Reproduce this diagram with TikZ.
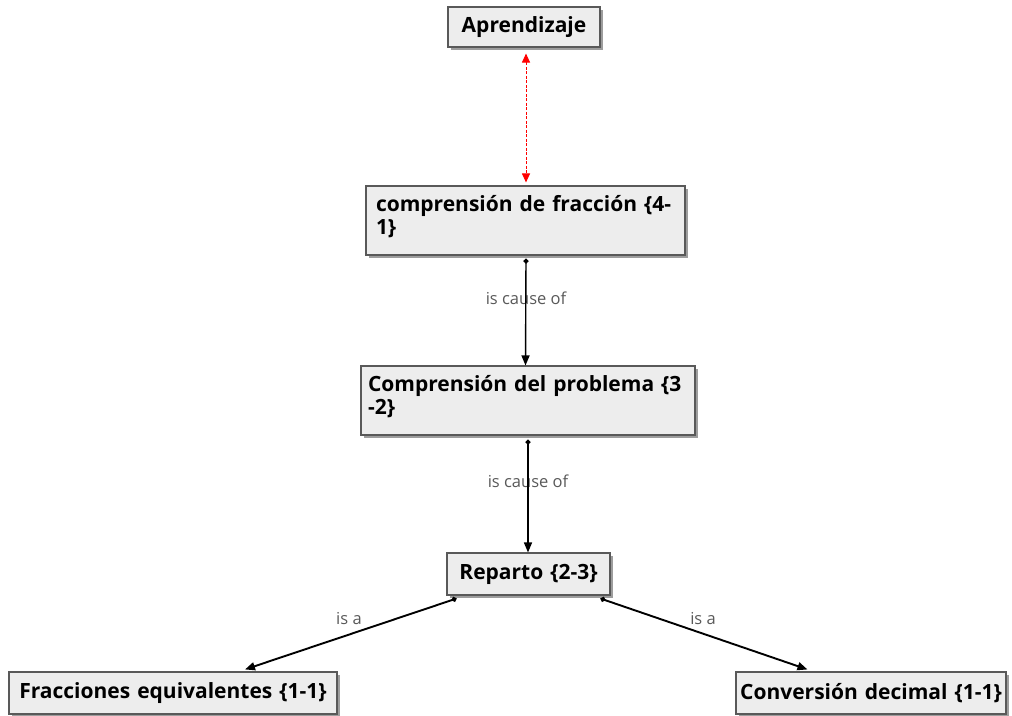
\documentclass[tikz,border=0pt]{standalone}
\usepackage{fontspec}
\setmainfont{Open Sans}
\usetikzlibrary{arrows.meta,shadows,calc}
\begin{document}
\begin{tikzpicture}[x=1pt,y=-1pt,
  concept/.style={draw=black!65, line width=1.1pt, fill=black!7,
    drop shadow={shadow xshift=3pt, shadow yshift=-3pt, opacity=0.55, fill=black!70},
    font=\bfseries\fontsize{21}{23}\selectfont, align=left, inner sep=0pt},
  linklabel/.style={text=black!65, font=\fontsize{16.5}{18}\selectfont, inner sep=1pt},
  link/.style={line width=1.4pt, black, {Circle[length=5pt]}-{Triangle[length=10pt,width=8pt]}},
  assoc/.style={red, line width=1pt, dashed, dash pattern=on 3pt off 1.5pt,
    {Triangle[length=9pt,width=8pt]}-{Triangle[length=9pt,width=8pt]}}
]
\useasboundingbox (0,0) rectangle (1012,715);

% concepts
\node[concept, align=center, minimum width=152pt, minimum height=40pt, text width=142pt] (apr) at (524,27) {Aprendizaje};
\node[concept, minimum width=319pt, minimum height=69pt, text width=299pt] (cf) at (525.5,220.5)
  {comprensión de fracción \{4-\\1\}\vspace{8pt}};
\node[concept, minimum width=334pt, minimum height=69pt, text width=320pt] (cp) at (528,400.5)
  {Comprensión del problema \{3\\-2\}\vspace{8pt}};
\node[concept, align=center, minimum width=163pt, minimum height=42pt, text width=155pt] (rep) at (528.5,574) {Reparto \{2-3\}};
\node[concept, align=center, minimum width=328pt, minimum height=42pt, text width=320pt] (fe) at (173,693) {Fracciones equivalentes \{1-1\}};
\node[concept, align=center, minimum width=270pt, minimum height=42pt, text width=262pt] (cd) at (871,693) {Conversión decimal \{1-1\}};

% link labels (lines are drawn over them)
\node[linklabel] (l1) at (526,298) {is cause of};
\node[linklabel] (l2) at (528,481) {is cause of};
\node[linklabel] (l3) at (349,619) {is a};
\node[linklabel] (l4) at (703,619) {is a};

% connectors
\draw[assoc] ($(apr.south)+(2,6)$) -- ($(cf.north)+(0.5,-3)$);
\draw[link] ($(cf.south)+(0.5,3)$) -- (cp.north -| cf.south);
\draw[link] (cp.south) ++(0,4) coordinate (c2s) -- (c2s |- rep.north);
\draw[link, line width=1.9pt] ($(rep.south west)+(10,3)$) -- ($(fe.north)+(72,-2)$);
\draw[link, line width=1.9pt] ($(rep.south east)+(-10,3)$) -- ($(cd.north west)+(72,-2)$);
\end{tikzpicture}
\end{document}
